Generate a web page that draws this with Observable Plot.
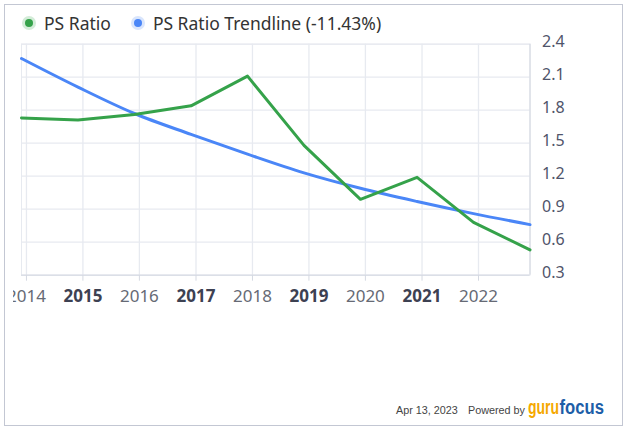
<!DOCTYPE html>
<html>
<head>
<meta charset="utf-8">
<script src="https://cdn.jsdelivr.net/npm/d3@7"></script>
<script src="https://cdn.jsdelivr.net/npm/@observablehq/plot@0.6"></script>
<style>
  html, body { margin: 0; padding: 0; background: #fff; }
  body { width: 626px; height: 430px; position: relative; overflow: hidden; font-family: "Noto Sans", sans-serif; }
  #frame { position: absolute; left: 4px; top: 4px; width: 617px; height: 420px; border: 1px solid #c3c7d3; box-sizing: content-box; }
  #legend { position: absolute; left: 25px; top: 11px; display: flex; align-items: center; font-size: 17.5px; color: #333; white-space: nowrap; }
  .item { display: flex; align-items: center; margin-right: 23px; }
  .dot { width: 8px; height: 8px; border-radius: 50%; margin-right: 11px; }
  #clip { position: absolute; left: 13px; top: 26px; width: 580px; height: 310px; overflow: hidden; }
  #footer { position: absolute; left: 396px; top: 404px; font-family: "Liberation Sans", Arial, sans-serif; font-size: 10.8px; color: #444; white-space: nowrap; }
  #footer span { position: absolute; top: 0; }
  #logo { position: absolute; left: 132px; top: -8px; overflow: visible; }
</style>
</head>
<body>
<div id="frame"></div>
<div id="legend"></div>
<div id="clip"></div>
<div id="footer">
  <span style="left:0">Apr 13, 2023</span>
  <span style="left:72px">Powered by</span>
  <svg id="logo" width="82" height="28">
    <text transform="translate(0,18) scale(1,1.5)" fill="#f5a800" font-family="Liberation Sans, Arial, sans-serif" font-weight="bold" font-size="14">guru</text>
    <text transform="translate(31.5,18) scale(1.19,1.5)" fill="#1d5ea8" font-family="Liberation Sans, Arial, sans-serif" font-weight="bold" font-size="14">focus</text>
  </svg>
</div>
<script>
// ---- data ----
const dates = ["2013-11-30","2014-11-30","2015-11-30","2016-11-30","2017-11-30","2018-11-30","2019-11-30","2020-11-30","2021-11-30","2022-11-30"];
const psRatio = [1.73, 1.71, 1.76, 1.84, 2.11, 1.48, 0.99, 1.19, 0.78, 0.53];
const trendline = [2.27, 2.01, 1.77, 1.58, 1.40, 1.23, 1.09, 0.97, 0.86, 0.76];
const tickYears = [2014, 2015, 2016, 2017, 2018, 2019, 2020, 2021, 2022];
const boldYears = [2015, 2017, 2019, 2021];
const yTicks = [0.3, 0.6, 0.9, 1.2, 1.5, 1.8, 2.1, 2.4];
const seriesNames = ["PS Ratio", "PS Ratio Trendline (-11.43%)"];
const colors = ["#35a24a", "#4a86f7"];
const halos = ["#d3ecd8", "#d9e5fc"];

// legend
const legend = document.getElementById("legend");
seriesNames.forEach((name, i) => {
  const it = document.createElement("div");
  it.className = "item";
  const d = document.createElement("span");
  d.className = "dot";
  d.style.background = colors[i];
  d.style.boxShadow = `0 0 0 3px ${halos[i]}`;
  it.appendChild(d);
  const t = document.createElement("span");
  t.textContent = name;
  it.appendChild(t);
  legend.appendChild(it);
});

const parse = d3.utcParse("%Y-%m-%d");
const rows = dates.map((d, i) => ({date: parse(d), ps: psRatio[i], trend: trendline[i]}));
const yearDate = y => new Date(Date.UTC(y, 0, 1));
const normalTicks = tickYears.filter(y => !boldYears.includes(y)).map(yearDate);
const boldTicks = tickYears.filter(y => boldYears.includes(y)).map(yearDate);
const allTicks = tickYears.map(yearDate);

const chart = Plot.plot({
  width: 567,
  height: 300,
  marginLeft: 8,
  marginRight: 50.5,
  marginTop: 17.7,
  marginBottom: 51.3,
  style: {fontFamily: "Noto Sans, sans-serif", overflow: "visible"},
  x: {type: "utc", domain: [rows[0].date, rows[rows.length - 1].date]},
  y: {domain: [0.3, 2.4]},
  marks: [
    Plot.frame({stroke: "#e7eaf0"}),
    Plot.gridY(yTicks, {stroke: "#e7eaf0", strokeOpacity: 1, strokeWidth: 1.3}),
    Plot.gridX(allTicks, {stroke: "#e7eaf0", strokeOpacity: 1, strokeWidth: 1.3}),
    Plot.ruleY([0.3], {stroke: "#d5d9e2"}),
    Plot.ruleX([rows[rows.length - 1].date], {stroke: "#d0d4de"}),
    Plot.axisX(normalTicks, {tickSize: 6, tickPadding: 9, stroke: "#d5d9e2", fill: "#666a75", fontSize: 17, tickFormat: d3.utcFormat("%Y"), label: null}),
    Plot.axisX(boldTicks, {tickSize: 6, tickPadding: 9, stroke: "#d5d9e2", fill: "#3d4152", fontSize: 17, fontWeight: "bold", tickFormat: d3.utcFormat("%Y"), label: null}),
    Plot.axisY(yTicks, {anchor: "right", tickSize: 0, tickPadding: 12, fill: "#50546a", fontSize: 16, dy: -2, tickFormat: d => d.toFixed(1), label: null}),
    Plot.line(rows, {x: "date", y: "trend", stroke: colors[1], strokeWidth: 3, curve: "monotone-x"}),
    Plot.line(rows, {x: "date", y: "ps", stroke: colors[0], strokeWidth: 3})
  ]
});
document.getElementById("clip").appendChild(chart);
</script>
</body>
</html>
